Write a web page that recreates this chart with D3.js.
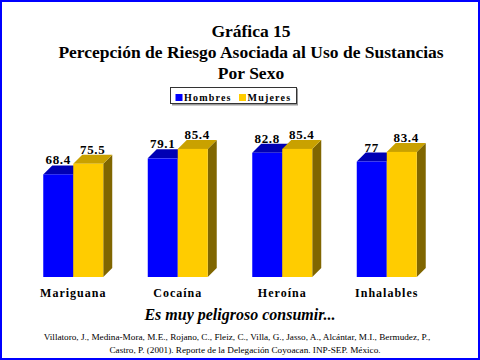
<!DOCTYPE html>
<html><head><meta charset="utf-8">
<script src="https://cdn.jsdelivr.net/npm/d3@7"></script>
<style>html,body{margin:0;padding:0;background:#fff;}svg{display:block;}</style>
</head><body>
<script>
const categories = ["Mariguana", "Cocaína", "Heroína", "Inhalables"];
const seriesNames = ["Hombres", "Mujeres"];
const hombres = [68.4, 79.1, 82.8, 77];
const mujeres = [75.5, 85.4, 85.4, 83.4];
const titleLines = ["Gráfica 15", "Percepción de Riesgo Asociada al Uso de Sustancias", "Por Sexo"];
const subtitle = "Es muy peligroso consumir...";
const citation = ["Villatoro, J., Medina-Mora, M.E., Rojano, C., Fleiz, C., Villa, G., Jasso, A., Alcántar, M.I., Bermudez, P.,",
                  "Castro, P. (2001). Reporte de la Delegación Coyoacan. INP-SEP. México."];

const W = 480, H = 360;
const serif = "Liberation Serif, Times New Roman, serif";
const colors = {
  Hombres: {front: "#0000ff", top: "#0000b4", side: "#00007a"},
  Mujeres: {front: "#ffcc00", top: "#c9a100", side: "#806600"}
};
const depth = 9;

const svg = d3.select("body").append("svg").attr("width", W).attr("height", H);
svg.append("rect").attr("width", W).attr("height", H).attr("fill", "#fff");
svg.append("rect").attr("x", 1).attr("y", 1).attr("width", W - 2).attr("height", H - 2)
  .attr("fill", "none").attr("stroke", "#0000ff").attr("stroke-width", 2);

// Title
svg.append("g").selectAll("text").data(titleLines).join("text")
  .attr("x", 251).attr("y", (d, i) => 37 + i * 21)
  .attr("text-anchor", "middle").attr("font-family", serif)
  .attr("font-weight", "bold").attr("font-size", 17.5).attr("fill", "#000")
  .text(d => d);

// Legend
const lg = svg.append("g");
lg.append("rect").attr("x", 172).attr("y", 88.5).attr("width", 126).attr("height", 17).attr("fill", "#999");
lg.append("rect").attr("x", 170.5).attr("y", 87.5).attr("width", 126).attr("height", 16)
  .attr("fill", "#fff").attr("stroke", "#333").attr("stroke-width", 1);
const legendX = d3.scalePoint().domain(seriesNames).range([175.5, 239]);
const li = lg.selectAll("g.li").data(seriesNames).join("g").attr("class", "li")
  .attr("transform", d => `translate(${legendX(d)},0)`);
li.append("rect").attr("x", 0).attr("y", 94).attr("width", 7).attr("height", 7)
  .attr("fill", d => colors[d].front);
li.append("text").attr("x", 8.5).attr("y", 101).attr("font-family", serif)
  .attr("font-weight", "bold").attr("font-size", 10).attr("letter-spacing", 1.2)
  .text(d => d);

// Scales
const x = d3.scaleBand().domain(categories).range([21, 439]).paddingInner(0.426).paddingOuter(0.213);
const xs = d3.scaleBand().domain(seriesNames).range([0, x.bandwidth()]);
const y = d3.scaleLinear().domain([0, 100]).range([277, 127]);

const data = [];
categories.forEach((c, i) => {
  data.push({cat: c, s: "Hombres", v: hombres[i]});
  data.push({cat: c, s: "Mujeres", v: mujeres[i]});
});

const bars = svg.append("g").selectAll("g").data(data).join("g");
bars.each(function(d) {
  const g = d3.select(this);
  const x0 = x(d.cat) + xs(d.s), w = xs.bandwidth(), yt = y(d.v), yb = y(0);
  g.append("polygon")
    .attr("points", [[x0 + w, yt], [x0 + w + depth, yt - depth], [x0 + w + depth, yb - depth], [x0 + w, yb]].join(" "))
    .attr("fill", colors[d.s].side);
  g.append("polygon")
    .attr("points", [[x0, yt], [x0 + depth, yt - depth], [x0 + w + depth, yt - depth], [x0 + w, yt]].join(" "))
    .attr("fill", colors[d.s].top);
  g.append("rect").attr("x", x0).attr("y", yt).attr("width", w).attr("height", yb - yt)
    .attr("fill", colors[d.s].front);
});

// Value labels
svg.append("g").selectAll("text").data(data).join("text")
  .attr("x", d => x(d.cat) + xs(d.s) + xs.bandwidth() / 2 + (d.s === "Mujeres" ? depth / 2 : 0))
  .attr("y", d => y(d.v) - depth - 1)
  .attr("text-anchor", "middle").attr("font-family", serif).attr("font-weight", "bold")
  .attr("font-size", 13).attr("letter-spacing", 0.7)
  .text(d => d.v);

// Category labels
svg.append("g").selectAll("text").data(categories).join("text")
  .attr("x", d => x(d) + x.bandwidth() / 2).attr("y", 297)
  .attr("text-anchor", "middle").attr("font-family", serif).attr("font-weight", "bold")
  .attr("font-size", 12).attr("letter-spacing", 1.0)
  .text(d => d);

// Subtitle
svg.append("text").attr("x", 240).attr("y", 320).attr("text-anchor", "middle")
  .attr("font-family", serif).attr("font-weight", "bold").attr("font-style", "italic")
  .attr("font-size", 16).text(subtitle);

// Citation (font size fitted so line 1 spans the same width as in the reference)
const cit = svg.append("g").selectAll("text").data(citation).join("text")
  .attr("x", (d, i) => i === 0 ? 237 : 245).attr("y", (d, i) => 340 + i * 12.5)
  .attr("text-anchor", "middle").attr("font-family", serif).attr("font-size", 9)
  .text(d => d);
const w0 = cit.nodes()[0].getComputedTextLength();
const fs = Math.max(7, Math.min(10, 9 * 387 / w0));
cit.attr("font-size", fs);
</script>
</body></html>
